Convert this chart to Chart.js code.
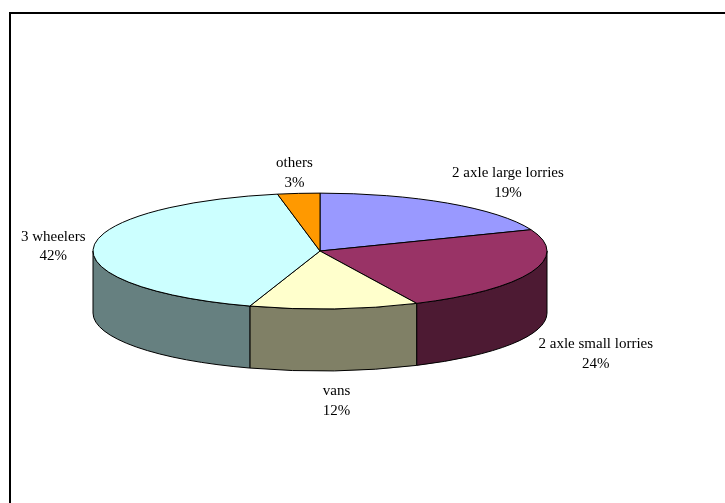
<!DOCTYPE html>
<html>
<head>
<meta charset="utf-8">
<script src="https://cdn.jsdelivr.net/npm/chart.js@4/dist/chart.umd.min.js"></script>
<style>
  html, body { margin: 0; padding: 0; background: #ffffff; }
  #wrap { width: 725px; height: 503px; position: relative; }
</style>
</head>
<body>
<div id="wrap"><canvas id="chart" width="725" height="503"></canvas></div>
<script>
// Vehicle mix (share of traffic, %)
const categories = ['2 axle large lorries', '2 axle small lorries', 'vans', '3 wheelers', 'others'];
const shares = [19, 24, 12, 42, 3];
const sliceColors = ['#9999FF', '#993366', '#FFFFCC', '#CCFFFF', '#FF9900'];

// darker shade used for the visible rim of each slice
function shade(hex, f) {
  const n = parseInt(hex.slice(1), 16);
  const r = Math.round(((n >> 16) & 255) * f);
  const g = Math.round(((n >> 8) & 255) * f);
  const b = Math.round((n & 255) * f);
  return `rgb(${r},${g},${b})`;
}

const clamp = (v, lo, hi) => Math.max(lo, Math.min(hi, v));

// Draws the pie as a tilted disc with a visible rim, using the arc geometry
// computed by Chart.js (centre, radius, start/end angles).
const tiltedPie = {
  id: 'tiltedPie',
  beforeDatasetsDraw(chart, args, opts) {
    const ctx = chart.ctx;
    const arcs = chart.getDatasetMeta(0).data;
    if (!arcs.length) return false;
    const cx = arcs[0].x, cy = arcs[0].y, rx = arcs[0].outerRadius;
    const ry = rx * opts.tilt, depth = opts.depth;
    ctx.save();
    ctx.lineWidth = 1;
    ctx.strokeStyle = '#000000';
    ctx.lineJoin = 'round';

    // rim: only the front half (angles 0..PI) can be seen
    arcs.forEach((arc, i) => {
      const s = Math.max(arc.startAngle, 0);
      const e = Math.min(arc.endAngle, Math.PI);
      if (e <= s) return;
      ctx.beginPath();
      ctx.ellipse(cx, cy, rx, ry, 0, s, e, false);
      ctx.lineTo(cx + rx * Math.cos(e), cy + ry * Math.sin(e) + depth);
      ctx.ellipse(cx, cy + depth, rx, ry, 0, e, s, true);
      ctx.closePath();
      ctx.fillStyle = shade(sliceColors[i], 0.5);
      ctx.fill();
      ctx.stroke();
    });

    // top faces
    arcs.forEach((arc, i) => {
      ctx.beginPath();
      ctx.moveTo(cx, cy);
      ctx.ellipse(cx, cy, rx, ry, 0, arc.startAngle, arc.endAngle, false);
      ctx.closePath();
      ctx.fillStyle = sliceColors[i];
      ctx.fill();
      ctx.stroke();
    });
    ctx.restore();
    return false;
  },
  afterDraw(chart, args, opts) {
    const ctx = chart.ctx;
    const arcs = chart.getDatasetMeta(0).data;
    const cx = arcs[0].x, cy = arcs[0].y, rx = arcs[0].outerRadius;
    const ry = rx * opts.tilt, depth = opts.depth;
    const values = chart.data.datasets[0].data;
    const total = values.reduce((a, b) => a + b, 0);
    const lineH = 19.5;

    ctx.save();
    ctx.font = '15px "Liberation Serif", "Times New Roman", serif';
    ctx.fillStyle = '#000000';
    ctx.textAlign = 'center';
    ctx.textBaseline = 'middle';

    // each label sits just outside the rim, on the side facing away from the centre
    arcs.forEach((arc, i) => {
      const mid = (arc.startAngle + arc.endAngle) / 2;
      const dx = Math.cos(mid), dy = Math.sin(mid);
      const ex = cx + rx * dx;
      const ey = cy + ry * dy + depth * clamp((dy - 0.1) * 4, 0, 1);
      const px = ex + dx * 8;
      const py = ey + dy * (dy > 0 ? 9 : 3) + 2;
      const lines = [chart.data.labels[i], Math.round(values[i] / total * 100) + '%'];
      const w = Math.max(...lines.map(t => ctx.measureText(t).width));
      const h = lineH * 2;
      const tx = px + clamp(dx * 2, -1, 1) * w / 2;
      const ty = py + clamp(dy * 2, -1, 1) * h / 2;
      ctx.fillText(lines[0], tx, ty - lineH / 2);
      ctx.fillText(lines[1], tx, ty + lineH / 2);
    });

    // chart frame
    ctx.lineWidth = 2;
    ctx.strokeStyle = '#000000';
    ctx.strokeRect(10, 13, 760, 540);
    ctx.restore();
  }
};

new Chart(document.getElementById('chart'), {
  type: 'pie',
  data: {
    labels: categories,
    datasets: [{
      data: shares,
      backgroundColor: sliceColors,
      borderColor: '#000000',
      borderWidth: 1
    }]
  },
  options: {
    responsive: false,
    animation: false,
    radius: 227,
    layout: { padding: { left: 93, right: 178, top: 20, bottom: 21 } },
    plugins: {
      legend: { display: false },
      tooltip: { enabled: false },
      tiltedPie: { tilt: 0.255, depth: 62 }
    }
  },
  plugins: [tiltedPie]
});
</script>
</body>
</html>
